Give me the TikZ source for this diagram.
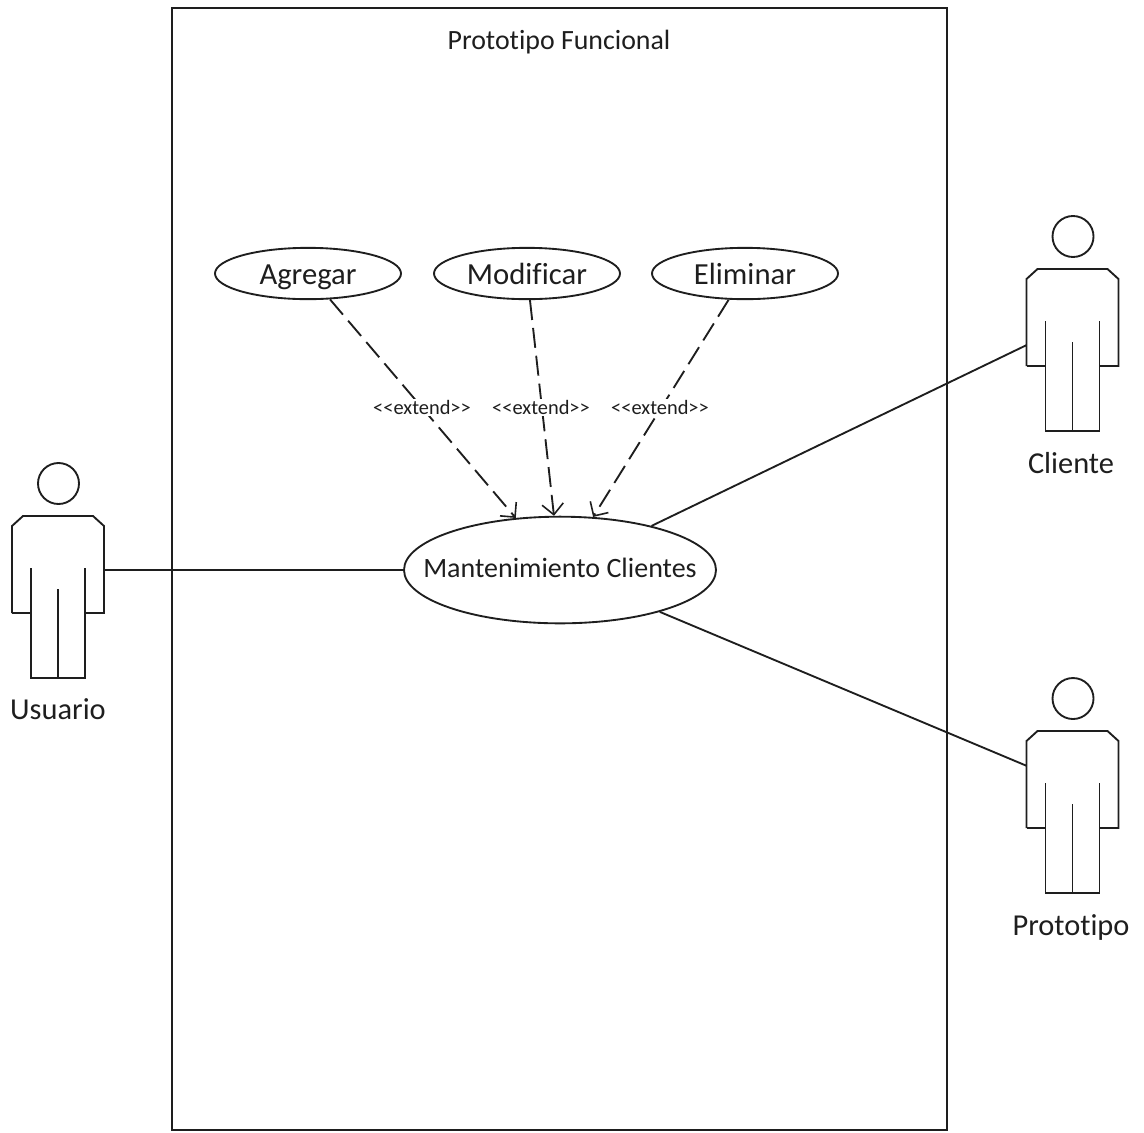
\documentclass[tikz,border=0pt]{standalone}
\usepackage{fontspec}
\setmainfont{Carlito}[Ligatures=NoCommon]
\usetikzlibrary{arrows.meta,shapes.geometric}
\definecolor{ink}{HTML}{1E1E1E}
\newcommand{\casetext}[2][-.37em]{\makebox[0pt]{\raisebox{#1}[0pt][0pt]{#2}}}
\tikzset{
  px/.style={x=0.75pt,y=-0.75pt},
  line/.style={draw=ink,line width=1.4pt},
  usecase/.style={ellipse,line,inner sep=0pt,text=ink},
  smallcase/.style={usecase,minimum width=139.5pt,minimum height=38.5pt,font=\fontsize{23}{26}\selectfont},
  maincase/.style={usecase,minimum width=234pt,minimum height=80pt,font=\fontsize{21}{24}\selectfont},
  actorbox/.style={rectangle,inner sep=0pt,minimum width=69pt,minimum height=162pt},
  actorname/.style={text=ink,inner sep=0pt,font=\fontsize{22.8}{26}\selectfont},
  stereo/.style={fill=white,text=ink,inner sep=1pt,font=\fontsize{15.3}{17}\selectfont},
  extendline/.style={line,dash pattern=on 15pt off 6pt,-{Straight Barb[length=8pt,width=16pt,line width=1.2pt]}},
  assoc/.style={line},
  actor/.pic={
    \draw[line] (0.5,-86.5) circle[radius=20.5];
    \draw[line] (-46,43) -- (-46,-44) -- (-35,-54) -- (35,-54) -- (46,-44) -- (46,43) -- (27,43);
    \draw[line] (-46,43) -- (-27,43);
    \draw[line] (-27,-2) -- (-27,108) -- (27,108) -- (27,-2);
    \draw[line] (0,19) -- (0,108);
  }
}
\begin{document}
\begin{tikzpicture}[px]
\useasboundingbox (0,0) rectangle (1144,1132);
\node[draw=ink,line width=1.4pt,rectangle,inner sep=0pt,minimum width=581.25pt,minimum height=841.5pt] (sys) at (559.5,569) {};
\node[text=ink,inner sep=0pt,font=\fontsize{20.9}{24}\selectfont] (title) at (559,42) {Prototipo Funcional};

\node[smallcase] (agregar) at (308,273.5) {\casetext{Agregar}};
\node[smallcase] (modificar) at (527,273.5) {\casetext{Modificar}};
\node[smallcase] (eliminar) at (745,273.5) {\casetext{Eliminar}};
\node[maincase] (mant) at (560,570) {\casetext[-.27em]{Mantenimiento Clientes}};

\node[actorbox] (usuario) at (58,570) {};
\node[actorbox] (cliente) at (1072.5,323) {};
\node[actorbox] (prototipo) at (1072.5,785) {};
\pic at (usuario) {actor};
\pic at (cliente) {actor};
\pic at (prototipo) {actor};
\node[actorname] (lusuario) at (58,709) {Usuario};
\node[actorname] (lcliente) at (1071,463) {Cliente};
\node[actorname] (lprototipo) at (1071,927) {Prototipo};

\draw[assoc] (usuario) -- (mant);
\draw[assoc] (cliente) -- (mant);
\draw[assoc] (prototipo) -- (mant);

\draw[extendline] (agregar) -- (mant);
\draw[extendline] (modificar) -- (mant);
\draw[extendline] (eliminar) -- (mant);
\node[stereo] (s1) at (422,407) {<{}<extend>{}>};
\node[stereo] (s2) at (541,407) {<{}<extend>{}>};
\node[stereo] (s3) at (660,407) {<{}<extend>{}>};
\end{tikzpicture}
\end{document}
